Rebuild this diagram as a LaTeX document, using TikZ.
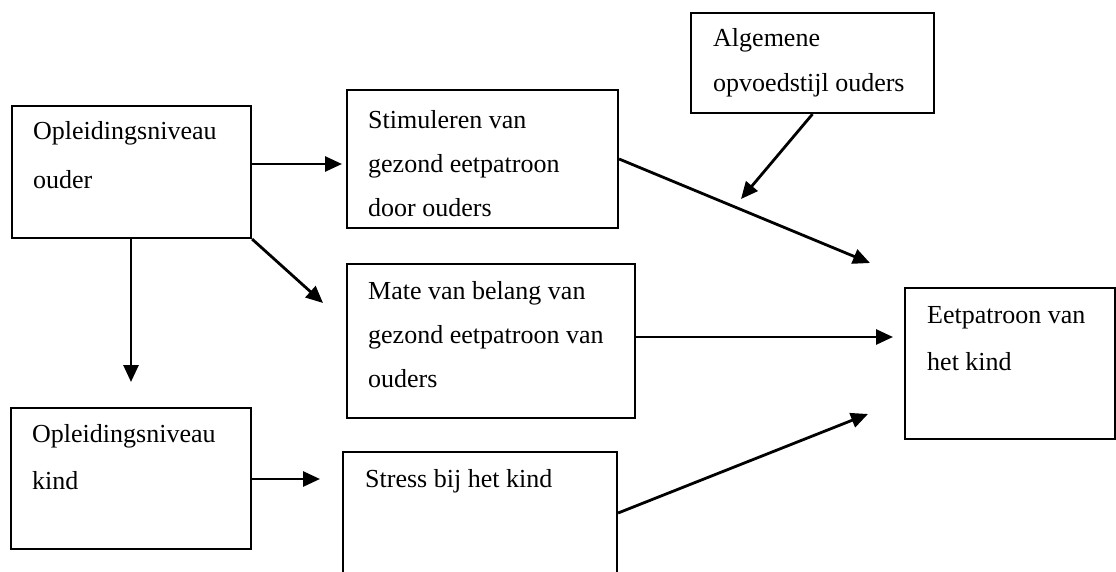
\documentclass[tikz,border=0pt]{standalone}
\usepackage{fontspec}
\setmainfont{Liberation Serif}
\usetikzlibrary{arrows.meta}
\begin{document}
\begin{tikzpicture}[x=1pt,y=-1pt,
  box/.style={draw,line width=2.2pt,rectangle,inner sep=0pt},
  txt/.style={anchor=base west,inner sep=0pt,font=\fontsize{26}{30}\selectfont},
  arr/.style={line width=2.8pt,-{Triangle[length=17pt,width=15pt]}}]
\clip (0,0) rectangle (1116,572);
\fill[white] (0,0) rectangle (1116,572);
% boxes
\node[box,minimum width=239pt,minimum height=132pt] (A) at (131.5,172) {};
\node[box,minimum width=271pt,minimum height=138pt] (S) at (482.5,159) {};
\node[box,minimum width=243pt,minimum height=100pt] (G) at (812.5,63) {};
\node[box,minimum width=288pt,minimum height=154pt] (M) at (491,341) {};
\node[box,minimum width=210pt,minimum height=151pt] (E) at (1010,363.5) {};
\node[box,minimum width=240pt,minimum height=141pt] (K) at (131,478.5) {};
\node[box,minimum width=274pt,minimum height=148pt] (T) at (480,526) {};
% texts
\node[txt] (a1) at (33,140) {Opleidingsniveau};
\node[txt] (a2) at (33,189) {ouder};
\node[txt] (s1) at (368,129) {Stimuleren van};
\node[txt] (s2) at (368,173) {gezond eetpatroon};
\node[txt] (s3) at (368,217) {door ouders};
\node[txt] (g1) at (713,47) {Algemene};
\node[txt] (g2) at (713,92) {opvoedstijl ouders};
\node[txt] (m1) at (368,299) {Mate van belang van};
\node[txt] (m2) at (368,343) {gezond eetpatroon van};
\node[txt] (m3) at (368,387) {ouders};
\node[txt] (e1) at (927,323) {Eetpatroon van};
\node[txt] (e2) at (927,370) {het kind};
\node[txt] (k1) at (32,442) {Opleidingsniveau};
\node[txt] (k2) at (32,489) {kind};
\node[txt] (t1) at (365,487) {Stress bij het kind};
% arrow tips
\coordinate (tAS) at (342,164);
\coordinate (tAK) at (131,382);
\coordinate (tAM) at (323,303);
\coordinate (tSE) at (870,263);
\coordinate (tGE) at (741,199);
\coordinate (tME) at (893,337);
\coordinate (tTE) at (868,414);
\coordinate (tKT) at (320,479);
\coordinate (sTE) at (0,513);
% connectors
\draw[arr] (A.east |- tAS) -- (tAS);
\draw[arr] (A.south -| tAK) -- (tAK);
\draw[arr] (A.south east) -- (tAM);
\draw[arr] (S.east) -- (tSE);
\draw[arr] (G.south) -- (tGE);
\draw[arr] (M.east |- tME) -- (tME);
\draw[arr] (T.east |- sTE) -- (tTE);
\draw[arr] (K.east |- tKT) -- (tKT);
\end{tikzpicture}
\end{document}
